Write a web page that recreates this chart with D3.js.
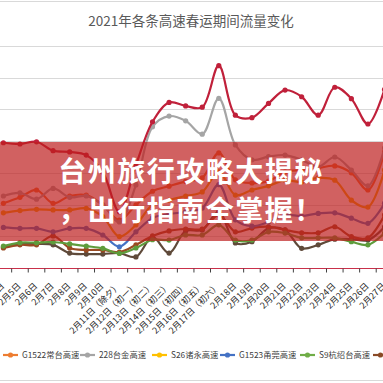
<!DOCTYPE html>
<html><head><meta charset="utf-8">
<script src="https://cdn.jsdelivr.net/npm/d3@7"></script>
<style>html,body{margin:0;padding:0;background:#fff;overflow:hidden}</style>
</head><body>
<svg id="c" width="383" height="383"></svg>
<script>
const titleText = "2021年各条高速春运期间流量变化";
const categories = ["2月4日","2月5日","2月6日","2月7日","2月8日","2月9日","2月10日",
  "2月11日（除夕）","2月12日（初一）","2月13日（初二）","2月14日（初三）","2月15日（初四）","2月16日（初五）","2月17日（初六）",
  "2月18日","2月19日","2月20日","2月21日","2月22日","2月23日","2月24日","2月25日","2月26日","2月27日"];
const yTicks = [0,10,20,30,40,50,60,70];

const seriesTop  = [39.5,39.1,39.8,37.0,36.6,35.6,30.3,17.7,32.5,46.1,52.2,51.1,50.7,63.8,48.2,47.4,51.9,56.1,54.0,48.2,57.0,53.4,45.4,56.3];
const seriesG1522 = [20.4,22.3,24.6,20.4,22.7,23.0,19.9,15.1,19.9,24.2,25.8,27.3,28.4,36.3,27.8,26.8,27.4,30.3,30.9,31.5,32.2,30.0,24.6,36.6];
const series228  = [22.7,23.7,21.7,25.1,22.3,22.7,19.9,14.5,26.2,44.5,47.9,46.4,42.2,53.5,38.8,34.1,35.1,35.6,34.1,31.9,35.0,30.9,25.9,37.8];
const seriesS26  = [17.4,18.1,18.5,18.3,18.3,18.8,16.2,9.9,13.6,19.9,21.4,22.7,24.0,30.3,23.0,24.6,25.9,27.7,27.1,28.4,27.7,21.4,19.2,30.9];
const seriesG1523 = [12.8,12.5,12.5,11.4,12.5,12.5,10.4,6.7,11.4,15.8,17.0,17.7,18.9,26.3,15.2,13.2,14.5,16.7,16.4,17.2,17.4,15.7,14.1,20.4];
const seriesS9   = [6.9,8.0,8.0,8.2,7.6,6.9,6.2,4.6,6.3,8.9,8.8,10.4,10.4,13.6,8.8,8.8,11.4,11.0,9.5,9.5,9.5,8.3,7.3,11.0];
const seriesBrown = [6.3,7.3,7.3,10.1,6.3,5.7,5.7,5.0,7.3,10.1,11.7,12.3,12.3,16.7,11.4,12.6,13.0,12.0,11.1,11.1,13.0,9.9,9.5,16.7];
const seriesDark = [6.6,7.6,7.6,7.3,4.7,4.4,4.4,4.7,3.5,9.8,4.7,11.7,12.0,17.7,7.9,8.3,12.5,12.0,6.2,7.3,9.1,9.1,8.8,12.9];

const legendNames = ["G1522常台高速","228台金高速","S26诸永高速","G1523甬莞高速","S9杭绍台高速",""];
const bannerLines = ["台州旅行攻略大揭秘","，出行指南全掌握！"];

const W = 383, H = 383;
const svg = d3.select("#c");
svg.append("rect").attr("width", W).attr("height", H).attr("fill", "#fff");

const x = d3.scaleBand().domain(categories).range([-4.9, -4.9 + 16.57 * categories.length]);
const cx = c => x(c) + x.bandwidth() / 2;
const y = d3.scaleLinear().domain([0, 70]).range([268, 46]);

// frame
svg.append("line").attr("x1",0).attr("x2",W).attr("y1",1.5).attr("y2",1.5).attr("stroke","#d9d9d9");
svg.append("line").attr("x1",0).attr("x2",W).attr("y1",380.5).attr("y2",380.5).attr("stroke","#d9d9d9");

// title
svg.append("text").attr("x", 191).attr("y", 26).attr("text-anchor","middle")
  .attr("font-family","'Noto Sans CJK SC', sans-serif").attr("font-size", 13.5)
  .attr("fill","#595959").text(titleText);

// gridlines
svg.append("g").selectAll("line").data(yTicks.filter(t => t > 0)).join("line")
  .attr("x1", 0).attr("x2", W)
  .attr("y1", d => Math.round(y(d)) + 0.5).attr("y2", d => Math.round(y(d)) + 0.5)
  .attr("stroke", "#d9d9d9").attr("stroke-width", 1);

// x axis
const axisY = Math.round(y(0)) + 0.5;
svg.append("line").attr("x1",0).attr("x2",W).attr("y1",axisY).attr("y2",axisY)
  .attr("stroke","#c9304a").attr("stroke-width",1.2);
svg.append("g").selectAll("line").data(categories).join("line")
  .attr("x1", d => x(d)).attr("x2", d => x(d))
  .attr("y1", axisY).attr("y2", axisY + 4)
  .attr("stroke", "#404040").attr("stroke-width", 1);
svg.append("g").selectAll("text").data(categories).join("text")
  .attr("transform", d => `translate(${cx(d) + 1.5},${axisY + 18}) rotate(-45)`)
  .attr("text-anchor", "end")
  .attr("font-family","'Noto Sans CJK SC', sans-serif").attr("font-size", 8.8)
  .attr("fill", "#262626").text(d => d);

// series
const allSeries = [
  {vals: seriesDark, color: "#5f4a3a"},
  {vals: seriesBrown, color: "#9a4a22"},
  {vals: seriesS9, color: "#5e9c3c"},
  {vals: seriesG1523, color: "#4472c4"},
  {vals: seriesS26, color: "#f2a900"},
  {vals: seriesG1522, color: "#ed6d2a"},
  {vals: series228, color: "#a5a5a5"},
  {vals: seriesTop, color: "#c0203a"}
];
const line = d3.line().x((d, i) => cx(categories[i])).y(d => y(d)).curve(d3.curveCatmullRom.alpha(0.5));
const gS = svg.append("g");
allSeries.forEach(s => {
  const g = gS.append("g");
  g.append("path").attr("d", line(s.vals)).attr("fill","none").attr("stroke", s.color).attr("stroke-width", 2.2);
  g.selectAll("circle").data(s.vals).join("circle")
    .attr("cx", (d, i) => cx(categories[i])).attr("cy", d => y(d)).attr("r", 2.6)
    .attr("fill", s.color);
});

// legend
const legendColors = ["#ed7d31","#a5a5a5","#ffc000","#4472c4","#70ad47","#8a4a26"];
const legendX = [3, 80, 152, 220, 300, 373];
const gL = svg.append("g");
legendNames.forEach((n, i) => {
  const lx = legendX[i], ly = 355;
  gL.append("line").attr("x1", lx).attr("x2", lx + 15).attr("y1", ly).attr("y2", ly)
    .attr("stroke", legendColors[i]).attr("stroke-width", 2.2);
  gL.append("circle").attr("cx", lx + 7.5).attr("cy", ly).attr("r", 2.6).attr("fill", legendColors[i]);
  if (n) gL.append("text").attr("x", lx + 19).attr("y", ly + 3)
    .attr("font-family","'Noto Sans CJK SC', sans-serif").attr("font-size", 8.3)
    .attr("fill", "#404040").text(n);
});

// banner
svg.append("rect").attr("x", 0).attr("y", 142).attr("width", W).attr("height", 99)
  .attr("fill", "rgb(190,30,30)").attr("fill-opacity", 0.7);
bannerLines.forEach((t, i) => {
  svg.append("text").attr("x", 191).attr("y", 182 + i * 39).attr("text-anchor", "middle")
    .attr("font-family","'Noto Sans CJK SC', sans-serif").attr("font-weight", 700)
    .attr("font-size", 28).attr("letter-spacing", 1.5)
    .attr("fill", "#fff").text(t);
});
</script>
</body></html>
